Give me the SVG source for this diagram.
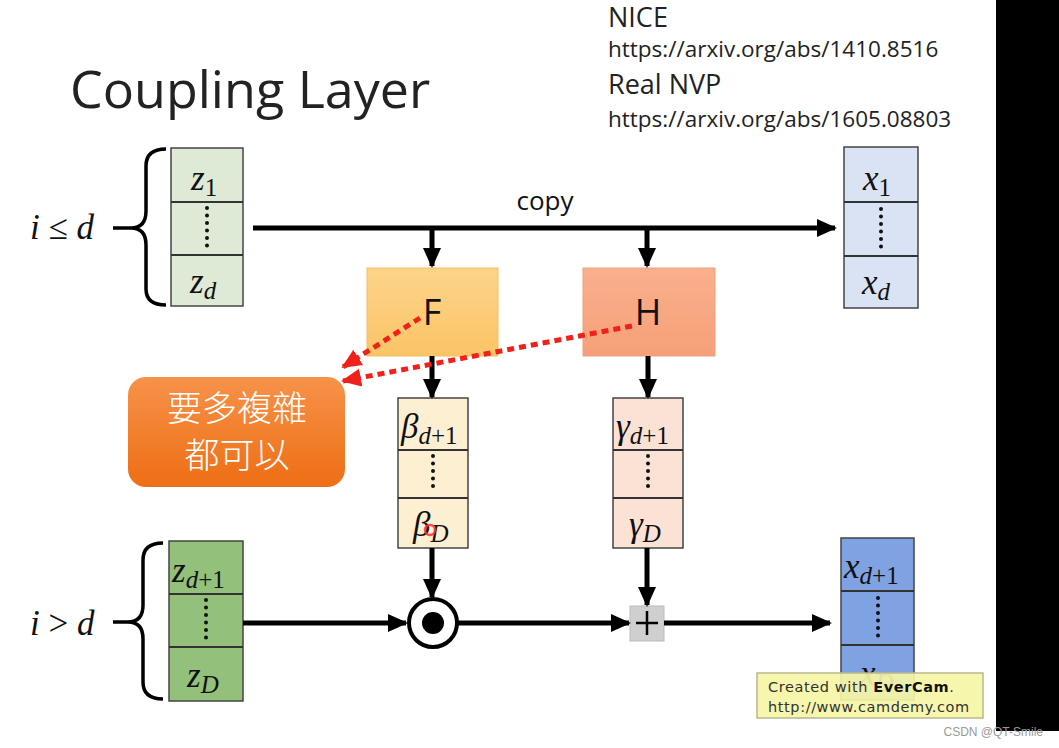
<svg xmlns="http://www.w3.org/2000/svg" width="1059" height="748" viewBox="0 0 1059 748">
<style>
.title{font-family:"Open Sans","Liberation Sans",sans-serif;font-size:52px;fill:#222}
.ref{font-family:"Open Sans","Liberation Sans",sans-serif;fill:#222}
.math{font-family:"Liberation Serif","DejaVu Serif",serif;font-style:italic;font-size:35px;fill:#111}
.sub{font-size:25px}
.num{font-style:normal}
.cell{stroke:#444;stroke-width:1.5}
.div{stroke:#333;stroke-width:2}
.dots{stroke:#111;stroke-width:4;stroke-linecap:round;stroke-dasharray:0 7.5;fill:none}
.arrow{stroke:#000;stroke-width:5;fill:none;marker-end:url(#ah)}
.brace{stroke:#000;stroke-width:3.5;fill:none}
.red{stroke:#f0201a;stroke-width:5;stroke-dasharray:7 5;fill:none;marker-end:url(#rh)}
.lbl{font-family:"Open Sans","Liberation Sans",sans-serif;font-size:36px;fill:#111;text-anchor:middle}
.copy{font-family:"Open Sans","Liberation Sans",sans-serif;font-size:26px;fill:#111;text-anchor:middle}
.cjk{font-family:"Noto Sans CJK TC","Noto Sans CJK SC",sans-serif;font-size:35px;font-weight:300;fill:#fff;text-anchor:middle}
</style>
<defs>
<marker id="ah" markerUnits="userSpaceOnUse" markerWidth="20" markerHeight="20" refX="18" refY="10" orient="auto">
<path d="M0,1 L20,10 L0,19 z" fill="#000"/>
</marker>
<marker id="rh" markerUnits="userSpaceOnUse" markerWidth="20" markerHeight="20" refX="18" refY="10" orient="auto">
<path d="M0,1 L20,10 L0,19 z" fill="#f0201a"/>
</marker>
<linearGradient id="gF" x1="0" y1="0" x2="0" y2="1"><stop offset="0" stop-color="#fdd48a"/><stop offset="1" stop-color="#fbc466"/></linearGradient>
<linearGradient id="gH" x1="0" y1="0" x2="0" y2="1"><stop offset="0" stop-color="#f9b08c"/><stop offset="1" stop-color="#f6a078"/></linearGradient>
<linearGradient id="gO" x1="0" y1="0" x2="0" y2="1"><stop offset="0" stop-color="#f7924a"/><stop offset="1" stop-color="#ee6e14"/></linearGradient>
</defs>
<rect width="1059" height="748" fill="#fff"/>
<rect x="996" y="0" width="63" height="731" fill="#000"/>

<text class="title" x="70" y="108">Coupling Layer</text>
<g id="refs">
<text class="ref" x="608" y="27" font-size="27">NICE</text>
<text class="ref" x="608" y="57" font-size="22.5">https://arxiv.org/abs/1410.8516</text>
<text class="ref" x="608" y="94" font-size="27">Real NVP</text>
<text class="ref" x="608" y="127" font-size="22.5">https://arxiv.org/abs/1605.08803</text>
</g>

<g id="brace-top">
<path class="brace" d="M113,228 L131,228 M166,149 Q146,149 146,166 L146,211 Q146,228 131,228 Q146,228 146,245 L146,289 Q146,305 166,305"/>
<text class="math" x="30" y="239">i <tspan class="num">≤</tspan> d</text>
</g>
<g id="brace-bottom">
<path class="brace" d="M113,622 L128,622 M163,543 Q143,543 143,560 L143,605 Q143,622 128,622 Q143,622 143,639 L143,682 Q143,699 163,699"/>
<text class="math" x="30" y="635">i <tspan class="num">&gt;</tspan> d</text>
</g>

<g id="z-top">
<rect class="cell" x="171" y="148" width="72" height="158" fill="#dfead6"/>
<line class="div" x1="171" y1="202" x2="243" y2="202"/>
<line class="div" x1="171" y1="255" x2="243" y2="255"/>
<path class="dots" d="M207,208 L207,250"/>
<text class="math" x="191" y="190">z<tspan class="sub num" dy="6">1</tspan></text>
<text class="math" x="190" y="293">z<tspan class="sub" dy="6">d</tspan></text>
</g>

<g id="x-top">
<rect class="cell" x="844" y="147" width="74" height="161" fill="#dae3f3"/>
<line class="div" x1="844" y1="202" x2="918" y2="202"/>
<line class="div" x1="844" y1="256" x2="918" y2="256"/>
<path class="dots" d="M881,209 L881,251"/>
<text class="math" x="863" y="190">x<tspan class="sub num" dy="6">1</tspan></text>
<text class="math" x="862" y="294">x<tspan class="sub" dy="6">d</tspan></text>
</g>

<g id="F">
<rect x="367" y="268" width="131" height="88" fill="url(#gF)" stroke="#f3c060" stroke-width="1"/>
<text class="lbl" x="432" y="325">F</text>
</g>
<g id="H">
<rect x="583" y="268" width="132" height="88" fill="url(#gH)" stroke="#f0a080" stroke-width="1"/>
<text class="lbl" x="648" y="325">H</text>
</g>

<g id="beta">
<rect class="cell" x="398" y="398" width="70" height="150" fill="#fdf0d2"/>
<line class="div" x1="398" y1="450" x2="468" y2="450"/>
<line class="div" x1="398" y1="498" x2="468" y2="498"/>
<path class="dots" d="M433,456 L433,493"/>
<text class="math" x="401" y="438">β<tspan class="sub" dy="6">d<tspan class="num">+1</tspan></tspan></text>
<text class="math" x="413" y="536">β<tspan class="sub" dy="6">D</tspan></text>
<circle cx="430" cy="530" r="5" fill="none" stroke="#ff3030" stroke-width="2.5" opacity="0.85"/>
</g>
<g id="gamma">
<rect class="cell" x="613" y="398" width="70" height="150" fill="#fbe2d5"/>
<line class="div" x1="613" y1="450" x2="683" y2="450"/>
<line class="div" x1="613" y1="498" x2="683" y2="498"/>
<path class="dots" d="M648,456 L648,493"/>
<text class="math" x="616" y="438">γ<tspan class="sub" dy="6">d<tspan class="num">+1</tspan></tspan></text>
<text class="math" x="629" y="536">γ<tspan class="sub" dy="6">D</tspan></text>
</g>

<g id="note">
<rect x="128" y="377" width="217" height="110" rx="18" fill="url(#gO)"/>
<text class="cjk" x="237" y="421">要多複雜</text>
<text class="cjk" x="237" y="468">都可以</text>
</g>

<g id="z-bottom">
<rect class="cell" x="169" y="541" width="74" height="160" fill="#93c07a"/>
<line class="div" x1="169" y1="594" x2="243" y2="594"/>
<line class="div" x1="169" y1="647" x2="243" y2="647"/>
<path class="dots" d="M206,600 L206,642"/>
<text class="math" x="172" y="582">z<tspan class="sub" dy="6">d<tspan class="num">+1</tspan></tspan></text>
<text class="math" x="187" y="687">z<tspan class="sub" dy="6">D</tspan></text>
</g>

<g id="odot">
<circle cx="433" cy="623" r="24" fill="#fff" stroke="#000" stroke-width="4"/>
<circle cx="433" cy="623" r="11" fill="#000"/>
</g>

<g id="plus">
<rect x="630" y="606" width="34" height="35" fill="#cfcfcf" stroke="#bbb" stroke-width="1"/>
<path d="M636,623 L658,623 M647,611 L647,635" stroke="#000" stroke-width="2.5"/>
</g>

<g id="x-bottom">
<rect class="cell" x="841" y="538" width="73" height="162" fill="#7fa2e2"/>
<line class="div" x1="841" y1="591" x2="914" y2="591"/>
<line class="div" x1="841" y1="645" x2="914" y2="645"/>
<path class="dots" d="M878,598 L878,640"/>
<text class="math" x="844" y="578">x<tspan class="sub" dy="6">d<tspan class="num">+1</tspan></tspan></text>
<text class="math" x="860" y="685">x<tspan class="sub" dy="6">D</tspan></text>
</g>

<g id="connectors">
<path class="arrow" d="M253,228 L835,228"/>
<text class="copy" x="545" y="210">copy</text>
<path class="arrow" d="M432,228 L432,266"/>
<path class="arrow" d="M647,228 L647,266"/>
<path class="arrow" d="M432,356 L432,397"/>
<path class="arrow" d="M648,356 L648,397"/>
<path class="arrow" d="M432,548 L432,597"/>
<path class="arrow" d="M647,548 L647,605"/>
<path class="arrow" d="M243,623 L406,623"/>
<path class="arrow" d="M458,623 L629,623"/>
<path class="arrow" d="M664,623 L830,623"/>
<path class="red" d="M420,318 L343,367"/>
<path class="red" d="M632,326 L343,381"/>
</g>

<g id="watermark">
<rect x="757" y="673" width="226" height="45" fill="#f6f5a6" fill-opacity="0.92" stroke="#b8b890" stroke-width="1.5"/>
<text x="768" y="692" font-family="'DejaVu Sans',sans-serif" font-size="14.5" letter-spacing="0.6" fill="#333">Created with <tspan font-weight="bold" fill="#111">EverCam</tspan>.</text>
<text x="768" y="712" font-family="'DejaVu Sans',sans-serif" font-size="14.5" letter-spacing="0.6" fill="#333">http://www.camdemy.com</text>
</g>
<text x="1043" y="736" font-family="'Liberation Sans',sans-serif" font-size="12" fill="#999" text-anchor="end">CSDN @QT-Smile</text>
</svg>
